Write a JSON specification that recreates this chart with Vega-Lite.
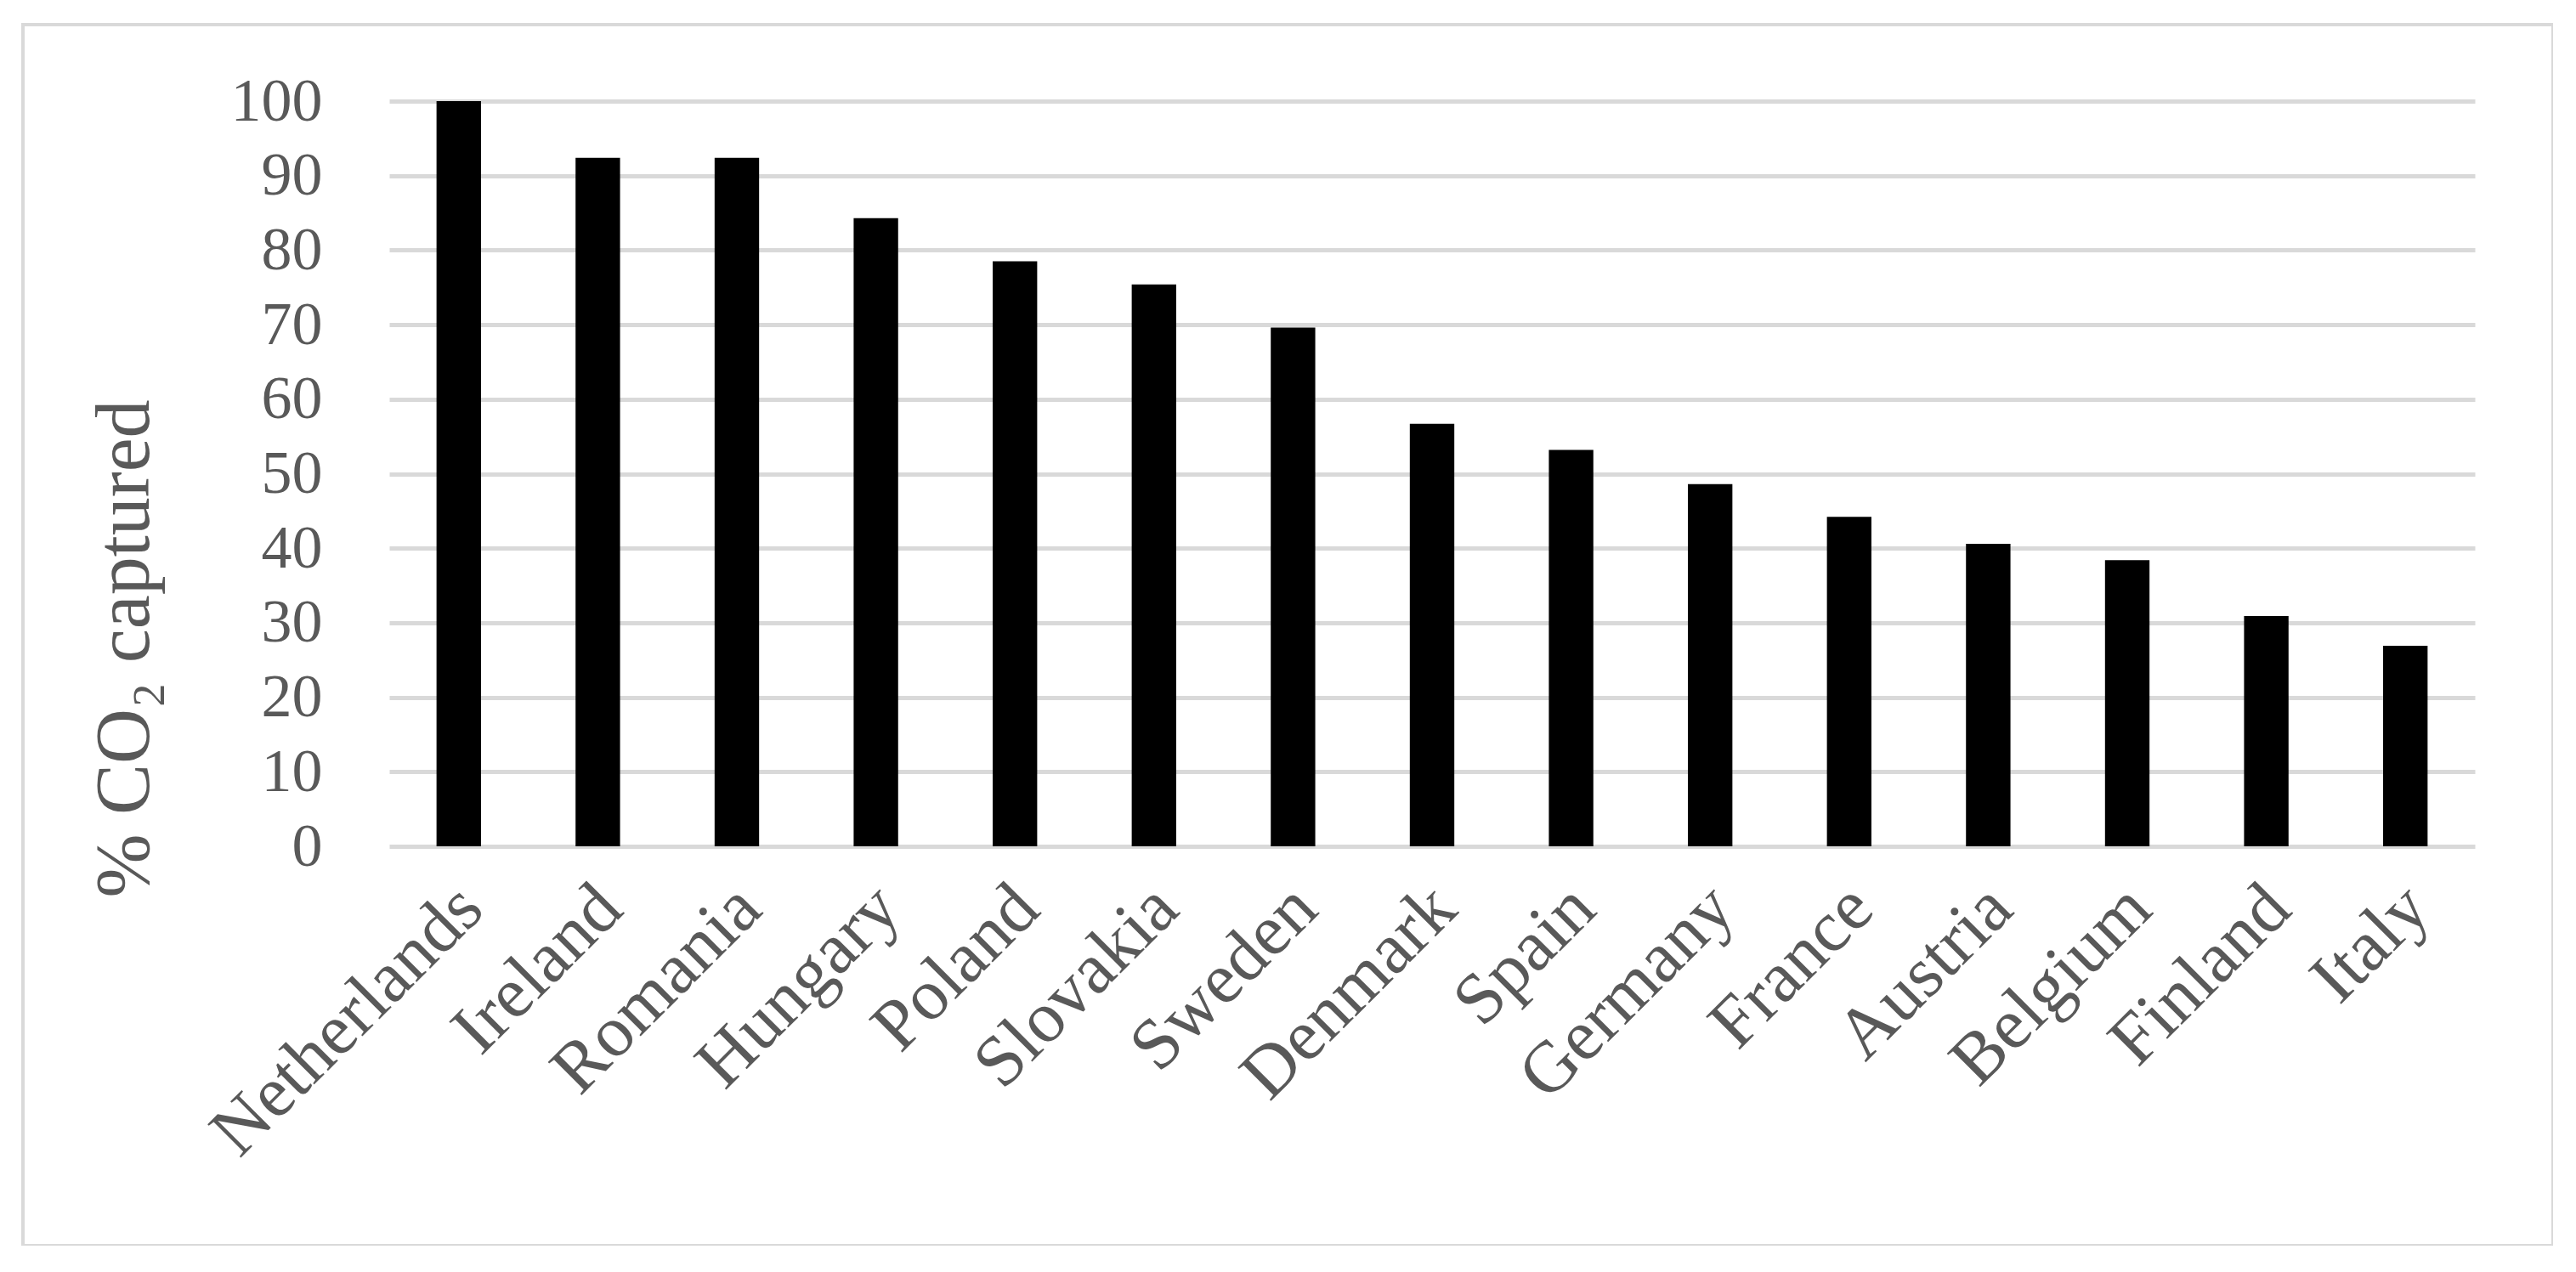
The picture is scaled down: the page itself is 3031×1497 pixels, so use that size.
{
  "$schema": "https://vega.github.io/schema/vega-lite/v6.json",
  "width": 2977,
  "height": 1437,
  "autosize": {"type": "none"},
  "padding": {"left": 27, "top": 29, "right": 0, "bottom": 0},
  "background": "white",
  "config": {"view": {"stroke": "#d9d9d9", "strokeWidth": 4}},
  "data": {"values": [
    {"country": "Netherlands", "value": 100},
    {"country": "Ireland", "value": 92.4},
    {"country": "Romania", "value": 92.4},
    {"country": "Hungary", "value": 84.3},
    {"country": "Poland", "value": 78.5},
    {"country": "Slovakia", "value": 75.4},
    {"country": "Sweden", "value": 69.6},
    {"country": "Denmark", "value": 56.7},
    {"country": "Spain", "value": 53.2},
    {"country": "Germany", "value": 48.6},
    {"country": "France", "value": 44.2},
    {"country": "Austria", "value": 40.6},
    {"country": "Belgium", "value": 38.4},
    {"country": "Finland", "value": 30.9},
    {"country": "Italy", "value": 26.9}
  ]},
  "mark": {"type": "bar", "color": "#000000"},
  "encoding": {
    "x": {
      "field": "country", "type": "nominal", "sort": null,
      "scale": {"range": [431, 2885], "paddingInner": 0.68, "paddingOuter": 0.34},
      "axis": {
        "title": null, "labelAngle": -45, "labelAlign": "right", "labelBaseline": "top",
        "labelPadding": 30, "labelOffset": -15, "labelFont": "Liberation Serif", "labelFontSize": 85,
        "labelColor": "#595959", "ticks": false, "domain": false, "offset": -470,
        "labelLimit": 0, "labelOverlap": false, "grid": false
      }
    },
    "y": {
      "field": "value", "type": "quantitative",
      "scale": {"domain": [0, 100], "range": [967, 90]},
      "axis": {
        "values": [0, 10, 20, 30, 40, 50, 60, 70, 80, 90, 100],
        "grid": true, "gridColor": "#d9d9d9", "gridWidth": 5,
        "domain": false, "ticks": false, "offset": -431, "labelPadding": 79,
        "labelFont": "Liberation Serif", "labelFontSize": 72, "labelColor": "#595959",
        "title": "% CO₂ captured", "titleFont": "Liberation Serif", "titleFontSize": 90,
        "titleFontWeight": "normal", "titleColor": "#595959",
        "titleX": -311, "titleY": 734, "titleAngle": -90, "titleBaseline": "middle", "titleAlign": "center"
      }
    }
  }
}
